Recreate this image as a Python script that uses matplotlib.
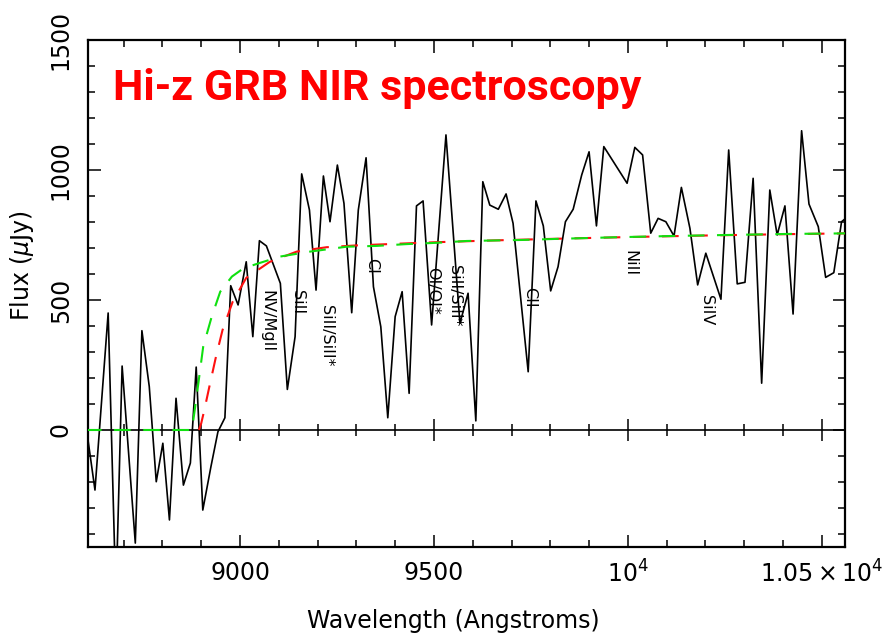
import matplotlib
matplotlib.use("Agg")
import matplotlib.pyplot as plt
from matplotlib.ticker import MultipleLocator

# observed spectrum (Angstrom, micro-Jansky)
wave = [8608, 8626, 8660, 8680, 8696, 8730, 8747, 8766, 8784, 8801,
        8818, 8835, 8854, 8872, 8887, 8904, 8925, 8943, 8961, 8976,
        8995, 9016, 9033, 9050, 9068, 9104, 9122, 9142, 9159, 9179,
        9196, 9215, 9232, 9251, 9268, 9288, 9305, 9325, 9344, 9363,
        9381, 9400, 9418, 9436, 9455, 9472, 9494, 9531, 9567, 9588,
        9608, 9626, 9644, 9666, 9686, 9704, 9743, 9763, 9782, 9801,
        9820, 9839, 9859, 9881, 9900, 9919, 9938, 9998, 10018, 10038,
        10059, 10078, 10098, 10119, 10138, 10160, 10180, 10201, 10240, 10260,
        10282, 10302, 10323, 10345, 10366, 10385, 10405, 10426, 10448, 10467,
        10491, 10510, 10531, 10551, 10572]
flux = [-38, -231, 450, -650, 246, -435, 382, 167, -199, -51,
        -346, 122, -212, -127, 242, -308, -141, -7, 47, 555,
        481, 647, 359, 728, 708, 564, 156, 359, 985, 846,
        538, 977, 801, 1019, 872, 451, 846, 1047, 551, 397,
        47, 436, 532, 141, 862, 881, 404, 1135, 410, 526,
        35, 955, 865, 849, 908, 795, 224, 881, 785, 535,
        628, 801, 849, 981, 1070, 785, 1090, 949, 1087, 1058,
        757, 814, 801, 746, 933, 776, 558, 680, 503, 1077,
        562, 568, 968, 180, 923, 750, 862, 446, 1151, 869,
        782, 587, 605, 801, 827]

# damping-wing models
green_wave = [8600, 8876, 8888, 8905, 8927, 8949, 8979, 9009, 9052, 9103,
              9180, 9275, 9352, 9430, 9507, 9584, 9730, 9816, 9961, 10108,
              10254, 10409, 10546, 10600]
green_flux = [0, 0, 128, 320, 436, 532, 590, 622, 643, 667,
              686, 705, 708, 715, 720, 727, 731, 735, 741, 746,
              750, 754, 756, 757]
red_wave = [8894, 8900, 8908, 8921, 8938, 8955, 8981, 9016, 9077, 9146,
            9223, 9300, 9400, 9500, 9650, 9800, 10000, 10200, 10400, 10600]
red_flux = [0, 26, 77, 167, 282, 385, 493, 585, 647, 686,
            703, 710, 716, 722, 729, 735, 742, 748, 753, 757]

# absorption line identifications
line_names = ["NV/MgII", "SiII", "SiII/SiII*", "CI", "OI/OI*",
              "SiII/SiII*", "CII", "NiII", "SiIV"]
line_wave = [9070, 9147, 9224, 9340, 9497, 9554, 9747, 10005, 10204]
line_top = [538, 538, 481, 662, 627, 635, 550, 692, 519]

x_ticks = [9000, 9500, 10000, 10500]
x_tick_labels = ["9000", "9500", r"$10^4$", r"$1.05\times10^4$"]
y_ticks = [0, 500, 1000, 1500]
x_range = (8608, 10560)
y_range = (-450, 1500)

fig = plt.figure(figsize=(8.87, 6.35), dpi=100)
ax = fig.add_axes([0.0992, 0.1386, 0.8535, 0.7984])

ax.plot(wave, flux, color="black", lw=1.2, zorder=2)
ax.plot(red_wave, red_flux, color="#ff1010", lw=1.5, dashes=(8, 6), zorder=3)
ax.plot(green_wave, green_flux, color="#10e010", lw=1.5, dashes=(8, 6), zorder=4)

ax.set_xlim(*x_range)
ax.set_ylim(*y_range)

ax.set_xticks(x_ticks, x_tick_labels)
ax.set_yticks(y_ticks)
ax.xaxis.set_minor_locator(MultipleLocator(100))
ax.yaxis.set_minor_locator(MultipleLocator(100))
ax.tick_params(which="both", direction="in", top=True, right=True, width=1.1)
ax.tick_params(which="major", length=9)
ax.tick_params(which="minor", length=5)
ax.tick_params(axis="x", labelsize=17, pad=10)
ax.tick_params(axis="y", labelsize=17, pad=11)
plt.setp(ax.get_yticklabels(), rotation=90, va="center")
for sp in ax.spines.values():
    sp.set_linewidth(1.6)

# zero-flux line, ticks crossing it
zero_frac = (0 - y_range[0]) / (y_range[1] - y_range[0])
zax = ax.secondary_xaxis(zero_frac)
zax.spines["bottom"].set_linewidth(1.2)
zax.xaxis.set_major_locator(MultipleLocator(500))
zax.xaxis.set_minor_locator(MultipleLocator(100))
zax.tick_params(which="both", direction="inout", labelbottom=False, width=1.1)
zax.tick_params(which="major", length=16)
zax.tick_params(which="minor", length=9)

for name, lw_, top in zip(line_names, line_wave, line_top):
    ax.text(lw_, top, name, rotation=-90, ha="center", va="top", fontsize=11.5)

ax.text(0.033, 0.882, "Hi-z GRB NIR spectroscopy", transform=ax.transAxes,
        color="#ff0000", fontsize=31, fontweight="bold", va="baseline",
        family=["Roboto", "Liberation Sans"])

ax.set_xlabel("Wavelength (Angstroms)", fontsize=17)
ax.xaxis.set_label_coords(0.482, -0.160)
ax.xaxis.label.set_va("baseline")
ax.set_ylabel(r"Flux ($\mu$Jy)", fontsize=17)
ax.yaxis.set_label_coords(-0.087, 0.556)
ax.yaxis.label.set_va("center")

fig.savefig("out.png", dpi=100)
